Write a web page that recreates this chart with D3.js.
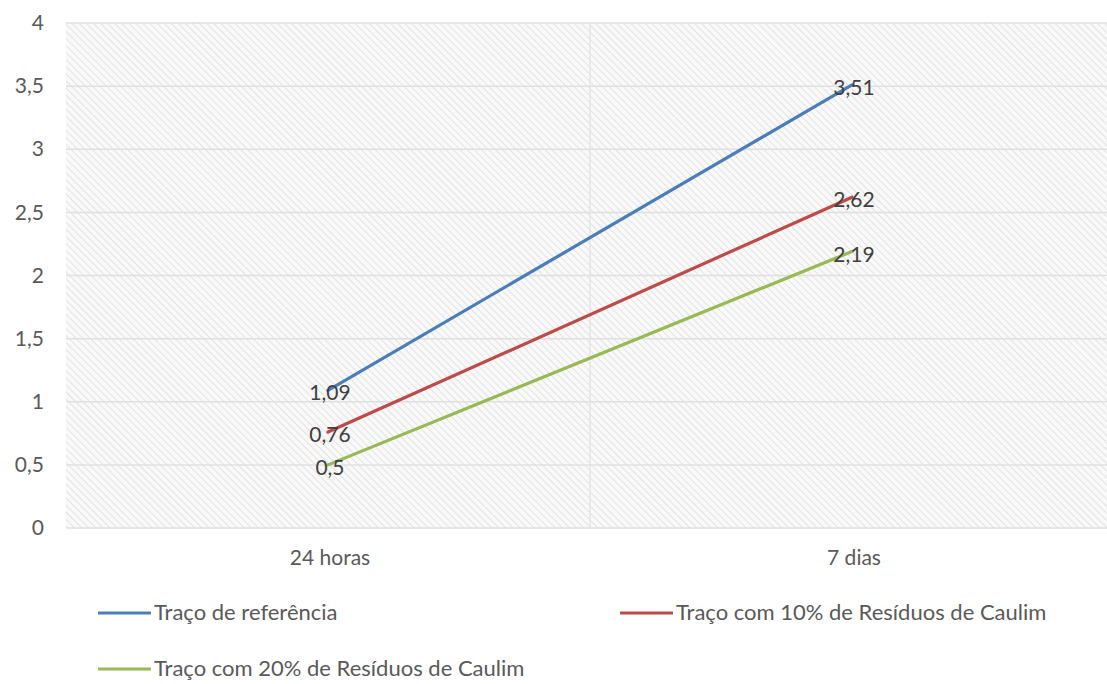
<!DOCTYPE html>
<html><head><meta charset="utf-8">
<script src="https://cdn.jsdelivr.net/npm/d3@7"></script>
<style>body{margin:0;background:#fff}svg{display:block}text{font-family:Lato,"Open Sans",sans-serif}</style>
</head><body>
<svg id="c" width="1107" height="684"></svg>
<script>
const categories = ["24 horas", "7 dias"];
const seriesNames = ["Traço de referência", "Traço com 10% de Resíduos de Caulim", "Traço com 20% de Resíduos de Caulim"];
const refValues = [1.09, 3.51];
const caulim10Values = [0.76, 2.62];
const caulim20Values = [0.5, 2.19];
const yTicks = [0, 0.5, 1, 1.5, 2, 2.5, 3, 3.5, 4];
const colors = ["#4a7ebb", "#be4b48", "#98b954"];

(function () {
const series = [refValues, caulim10Values, caulim20Values].map((v, i) => ({name: seriesNames[i], values: v, color: colors[i]}));

const svg = d3.select("#c");
const pL = 66, pR = 1114, pT = 23, pB = 528;
const fs = "21px";

const defs = svg.append("defs");
const pat = defs.append("pattern").attr("id", "hatch").attr("patternUnits", "userSpaceOnUse")
  .attr("width", 5).attr("height", 5).attr("patternTransform", "rotate(45)");
pat.append("rect").attr("width", 5).attr("height", 5).attr("fill", "#f9f9f9");
pat.append("line").attr("x1", 0).attr("y1", 0).attr("x2", 5).attr("y2", 0)
  .attr("stroke", "#e3e3e3").attr("stroke-width", 2);

const x = d3.scaleBand().domain(categories).range([pL, pR]);
const y = d3.scaleLinear().domain([0, 4]).range([pB, pT]);

svg.append("rect").attr("x", pL).attr("y", pT).attr("width", pR - pL).attr("height", pB - pT)
  .attr("fill", "url(#hatch)");

svg.append("g").selectAll("line").data(yTicks).join("line")
  .attr("x1", pL).attr("x2", pR).attr("y1", d => y(d)).attr("y2", d => y(d))
  .attr("stroke", "#e0e0e0").attr("stroke-width", 1.5);
svg.append("line").attr("x1", x("7 dias")).attr("x2", x("7 dias")).attr("y1", pT).attr("y2", pB)
  .attr("stroke", "#e4e4e4").attr("stroke-width", 1.5);

const yAxis = d3.axisLeft(y).tickValues(yTicks).tickSize(0).tickPadding(0)
  .tickFormat(d => String(d).replace(".", ","));
const gy = svg.append("g").attr("transform", `translate(${pL - 22},0)`).call(yAxis);
gy.select(".domain").remove();
gy.selectAll("text").attr("fill", "#595959").style("font-size", fs).attr("text-anchor", "end");

const xAxis = d3.axisBottom(x).tickSize(0).tickPadding(0);
const gx = svg.append("g").attr("transform", `translate(2,${pB + 22})`).call(xAxis);
gx.select(".domain").remove();
gx.selectAll("text").attr("fill", "#595959").style("font-size", fs);

const line = d3.line().x((d, i) => x(categories[i]) + x.bandwidth() / 2).y(d => y(d));
svg.append("g").selectAll("path").data(series).join("path")
  .attr("d", d => line(d.values)).attr("fill", "none")
  .attr("stroke", d => d.color).attr("stroke-width", 3.2).attr("stroke-linecap", "round");

series.forEach(s => {
  svg.append("g").selectAll("text").data(s.values).join("text")
    .attr("x", (d, i) => x(categories[i]) + x.bandwidth() / 2 + 2)
    .attr("y", d => y(d) + 10)
    .attr("text-anchor", "middle").attr("fill", "#404040").style("font-size", fs)
    .text(d => String(d).replace(".", ","));
});

const legendPos = [[98, 613], [620, 613], [98, 669]];
series.forEach((s, i) => {
  const [lx, ly] = legendPos[i];
  svg.append("line").attr("x1", lx).attr("x2", lx + 53).attr("y1", ly).attr("y2", ly)
    .attr("stroke", s.color).attr("stroke-width", 3.2);
  svg.append("text").attr("x", lx + 56).attr("y", ly + 7).attr("fill", "#595959")
    .style("font-size", "22px").text(s.name);
});
})();
</script>
</body></html>
